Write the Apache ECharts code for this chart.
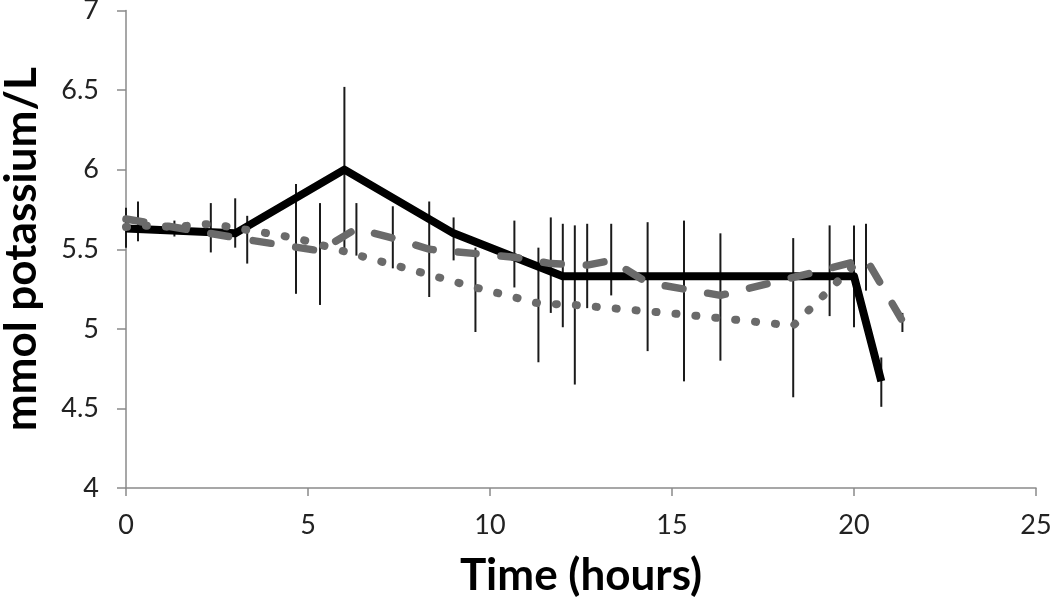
<!DOCTYPE html>
<html>
<head>
<meta charset="utf-8">
<script src="https://cdn.jsdelivr.net/npm/echarts@6/dist/echarts.min.js"></script>
<style>
  html, body { margin: 0; padding: 0; background: #fff; }
  #chart { width: 1050px; height: 601px; }
</style>
</head>
<body>
<div id="chart"></div>
<script>
// x axis ticks (hours) and y axis ticks (mmol/L)
const xTicks = [0, 5, 10, 15, 20, 25];
const yTicks = [4, 4.5, 5, 5.5, 6, 6.5, 7];

// solid black series
const solidTime = [0, 3, 6, 9, 12, 20, 20.75];
const solidMean = [5.63, 5.60, 6.00, 5.60, 5.33, 5.33, 4.67];
const solidLow  = [5.51, 5.51, 5.49, 5.43, 5.01, 5.01, 4.51];
const solidHigh = [5.76, 5.82, 6.52, 5.70, 5.66, 5.65, 4.82];

// grey dashed series
const dashTime = [0, 3.33, 5.33, 6.33, 7.33, 8.33, 10.67, 11.67, 12.67, 13.33, 14.33, 16.33, 19.33, 20.33, 21.33];
const dashMean = [5.69, 5.56, 5.49, 5.63, 5.57, 5.50, 5.45, 5.41, 5.40, 5.43, 5.29, 5.21, 5.38, 5.44, 5.05];
const dashLow  = [5.69, 5.41, 5.15, 5.46, 5.38, 5.20, 5.26, 5.10, 5.13, 5.21, 4.86, 4.80, 5.08, 5.24, 4.98];
const dashHigh = [5.69, 5.71, 5.79, 5.79, 5.77, 5.80, 5.68, 5.70, 5.66, 5.66, 5.67, 5.60, 5.65, 5.66, 5.10];

// grey dotted series
const dotTime = [0, 0.33, 1.33, 2.33, 4.67, 9.6, 11.33, 12.33, 15.33, 18.33, 20.0];
const dotMean = [5.64, 5.65, 5.64, 5.66, 5.57, 5.26, 5.16, 5.15, 5.09, 5.02, 5.40];
const dotLow  = [5.64, 5.55, 5.58, 5.48, 5.22, 4.98, 4.79, 4.65, 4.67, 4.57, 5.40];
const dotHigh = [5.64, 5.80, 5.68, 5.79, 5.91, 5.51, 5.51, 5.65, 5.68, 5.57, 5.40];

const zip = (a, b) => a.map((v, i) => [v, b[i]]);
const bars = (t, lo, hi) => t.map((v, i) => [v, lo[i], hi[i]]).filter(d => d[2] > d[1]);

const errorBarData = [].concat(
  bars(solidTime, solidLow, solidHigh),
  bars(dashTime, dashLow, dashHigh),
  bars(dotTime, dotLow, dotHigh)
);

const chart = echarts.init(document.getElementById('chart'));

chart.setOption({
  animation: false,
  backgroundColor: '#fff',
  textStyle: { fontFamily: 'Lato' },
  grid: { left: 126, right: 14, top: 10.5, bottom: 113, outerBoundsMode: 'none' },
  xAxis: {
    type: 'value',
    min: xTicks[0],
    max: xTicks[xTicks.length - 1],
    interval: 5,
    name: 'Time (hours)',
    nameLocation: 'middle',
    nameGap: 66,
    nameTextStyle: { fontFamily: 'Lato', fontWeight: 'bold', fontSize: 44, color: '#000' },
    axisLine: { onZero: false, lineStyle: { color: '#8a8a8a', width: 1.5 } },
    axisTick: { show: true, inside: false, length: 8, lineStyle: { color: '#8a8a8a', width: 1.5 } },
    axisLabel: { fontFamily: 'Lato', fontSize: 27, color: '#222', margin: 24 },
    splitLine: { show: false }
  },
  yAxis: {
    type: 'value',
    min: yTicks[0],
    max: yTicks[yTicks.length - 1],
    interval: 0.5,
    name: 'mmol potassium/L',
    nameLocation: 'middle',
    nameGap: 82,
    nameRotate: 90,
    nameTextStyle: { fontFamily: 'Lato', fontWeight: 'bold', fontSize: 44, color: '#000' },
    axisLine: { show: true, lineStyle: { color: '#8a8a8a', width: 1.5 } },
    axisTick: { show: true, inside: false, length: 9, lineStyle: { color: '#8a8a8a', width: 1.5 } },
    axisLabel: { fontFamily: 'Lato', fontSize: 27, color: '#222', margin: 27 },
    splitLine: { show: false }
  },
  series: [
    {
      type: 'custom',
      z: 1,
      data: errorBarData,
      renderItem: (params, api) => {
        const top = api.coord([api.value(0), api.value(2)]);
        const bottom = api.coord([api.value(0), api.value(1)]);
        return {
          type: 'line',
          shape: { x1: top[0], y1: top[1], x2: bottom[0], y2: bottom[1] },
          style: { stroke: '#1a1a1a', lineWidth: 2 }
        };
      }
    },
    {
      type: 'line',
      z: 2,
      data: zip(solidTime, solidMean),
      symbol: 'none',
      lineStyle: { color: '#000', width: 8, join: 'round' }
    },
    {
      type: 'line',
      z: 3,
      data: zip(dashTime, dashMean),
      symbol: 'none',
      lineStyle: { color: '#6a6a6a', width: 7.5, type: [18, 25], cap: 'round', join: 'round' }
    },
    {
      type: 'line',
      z: 4,
      data: zip(dotTime, dotMean),
      symbol: 'none',
      lineStyle: { color: '#6a6a6a', width: 8, type: [1, 19], cap: 'round', join: 'round' }
    }
  ]
});
</script>
</body>
</html>
